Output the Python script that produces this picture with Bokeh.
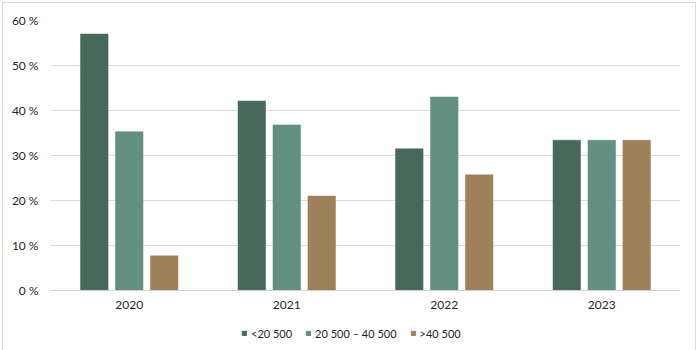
from bokeh.plotting import figure
from bokeh.models import (ColumnDataSource, FactorRange, Range1d, FixedTicker,
                          PrintfTickFormatter, Legend, LegendItem)
from bokeh.transform import dodge
from bokeh.embed import file_html
from bokeh.resources import INLINE

years = ["2020", "2021", "2022", "2023"]
series_names = ["<20 500", "20 500 \u2013 40 500", ">40 500"]
low = [57.0, 42.1, 31.5, 33.4]
mid = [35.3, 36.8, 43.0, 33.4]
high = [7.7, 21.0, 25.7, 33.4]
y_ticks = [0, 10, 20, 30, 40, 50, 60]
colors = ["#48685b", "#638f80", "#9f8159"]

src = ColumnDataSource(dict(year=years, low=low, mid=mid, high=high))

# frame extends below the 0 line so the legend can sit inside it
p = figure(x_range=FactorRange(*years, range_padding=0),
           y_range=Range1d(-13.33, 60),
           frame_width=630, frame_height=330,
           output_backend="svg", toolbar_location=None,
           min_border_left=47, min_border_right=15, min_border_top=17,
           min_border_bottom=0)
p.styles = {"margin-left": "2px", "margin-top": "2px",
            "border": "1px solid #d9d9d9"}
p.outline_line_color = None
p.background_fill_color = "white"
p.border_fill_color = "white"

FONT = "Lato"
bw = 0.175
r1 = p.vbar(x=dodge("year", -0.222, range=p.x_range), top="low", width=bw,
            source=src, fill_color=colors[0], line_color=colors[0], line_width=0.5)
r2 = p.vbar(x=dodge("year", 0.0, range=p.x_range), top="mid", width=bw,
            source=src, fill_color=colors[1], line_color=colors[1], line_width=0.5)
r3 = p.vbar(x=dodge("year", 0.222, range=p.x_range), top="high", width=bw,
            source=src, fill_color=colors[2], line_color=colors[2], line_width=0.5)

p.yaxis.ticker = FixedTicker(ticks=y_ticks)
p.yaxis.formatter = PrintfTickFormatter(format="%d %%")
p.yaxis.axis_line_color = None
p.xaxis.axis_line_color = "#d0d0d0"
p.xaxis.fixed_location = 0
for ax in (p.xaxis, p.yaxis):
    ax.major_tick_line_color = None
    ax.minor_tick_line_color = None
    ax.major_tick_out = 0
    ax.major_tick_in = 0
    ax.major_label_text_font = FONT
    ax.major_label_text_font_size = "12px"
    ax.major_label_text_color = "#262626"
p.yaxis.major_label_standoff = 12
p.xaxis.major_label_standoff = 10
p.xgrid.grid_line_color = None
p.ygrid.grid_line_color = "#d9d9d9"
p.ygrid.grid_line_width = 1

legend = Legend(items=[LegendItem(label=series_names[0], renderers=[r1]),
                       LegendItem(label=series_names[1], renderers=[r2]),
                       LegendItem(label=series_names[2], renderers=[r3])],
                location=(191, 10), orientation="horizontal",
                glyph_width=6, glyph_height=6, label_height=14,
                label_standoff=4, spacing=13, padding=0, margin=0,
                border_line_color=None, background_fill_alpha=0,
                label_text_font=FONT, label_text_font_size="11px",
                label_text_color="#262626")
p.add_layout(legend, "center")

open("out.html", "w").write(file_html(p, INLINE))
